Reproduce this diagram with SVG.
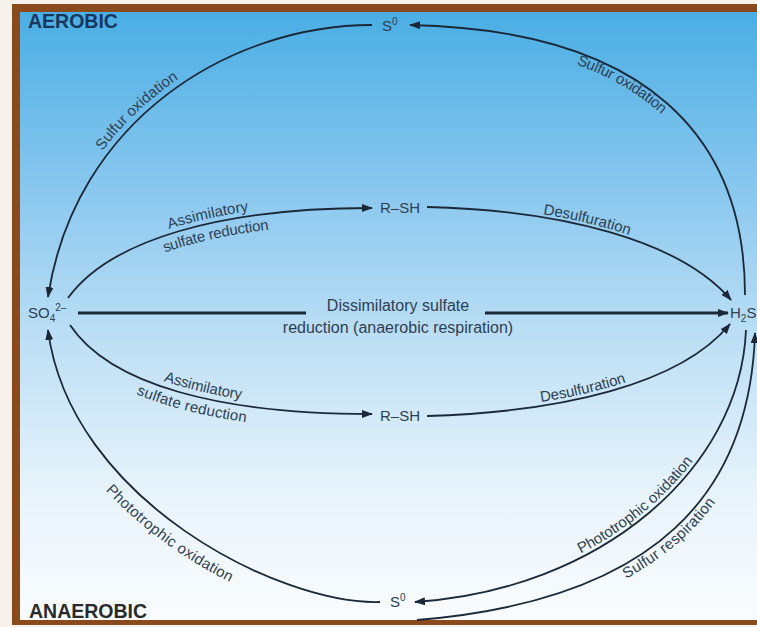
<svg xmlns="http://www.w3.org/2000/svg" width="757" height="627" viewBox="0 0 757 627">
<defs>
<linearGradient id="bg" x1="0" y1="12" x2="0" y2="620" gradientUnits="userSpaceOnUse">
<stop offset="0" stop-color="#4aaee4"/>
<stop offset="0.3" stop-color="#8bc8ef"/>
<stop offset="0.55" stop-color="#bfe0f5"/>
<stop offset="0.8" stop-color="#e9f4fb"/>
<stop offset="1" stop-color="#f9fcfe"/>
</linearGradient>
<marker id="ah" viewBox="0 0 11 8" refX="10" refY="4" markerWidth="11" markerHeight="8" markerUnits="userSpaceOnUse" orient="auto">
<path d="M0,0 L11,4 L0,8 z" fill="#1b2838"/>
</marker>
<path id="tp1" d="M48,297 C 75,120 230,25 372,25"/>
<path id="tp2" d="M412,25 C 650,30 745,140 745,295"/>
<path id="tp3" d="M68,298 C 110,240 220,208 372,208"/>
<path id="tp4" d="M427,207 C 560,210 680,240 732,300"/>
<path id="tp5" d="M70,325 C 110,385 220,414 372,414"/>
<path id="tp6" d="M427,416 C 560,412 680,385 730,324"/>
<path id="tp7" d="M48,330 C 70,500 280,605 380,602"/>
<path id="tp8" d="M417,602 C 600,590 740,470 746,330"/>
<path id="tp9" d="M417,620 C 660,600 750,490 755,333"/>
</defs>
<style>
.ln{fill:none;stroke:#1b2838;stroke-width:1.8;marker-end:url(#ah)}
.lbl{font-family:"Liberation Sans",Arial,sans-serif;font-size:15px;fill:#2e3f52}
.node{font-family:"Liberation Sans",Arial,sans-serif;font-size:15px;fill:#2e3f52}
.zone{font-family:"Liberation Sans",Arial,sans-serif;font-size:19.5px;font-weight:bold}
</style>
<rect x="0" y="0" width="757" height="627" fill="#f6f1ea"/>
<rect x="12" y="4" width="745" height="621" fill="#8b4a1c"/>
<rect x="20" y="12" width="737" height="608" fill="url(#bg)"/>

<g id="connectors">
<path class="ln" d="M372,25 C 230,25 75,120 48,297"/>
<path class="ln" d="M745,295 C 745,140 650,30 410,25"/>
<path class="ln" d="M68,298 C 110,240 220,208 372,208"/>
<path class="ln" d="M427,207 C 560,210 680,240 731,300"/>
<path class="ln" d="M78,313 L306,313" style="stroke-width:3;marker-end:none"/>
<path class="ln" d="M485,313 L728,313" style="stroke-width:3"/>
<path class="ln" d="M70,325 C 110,385 220,414 372,414"/>
<path class="ln" d="M427,416 C 560,412 680,385 730,324"/>
<path class="ln" d="M380,602 C 280,605 70,500 48,330"/>
<path class="ln" d="M746,330 C 740,470 600,590 415,602"/>
<path class="ln" d="M417,620 C 660,600 750,490 755,333"/>
</g>

<g id="labels">
<text class="lbl"><textPath href="#tp1" startOffset="45%" text-anchor="middle"><tspan dy="-6">Sulfur oxidation</tspan></textPath></text>
<text class="lbl"><textPath href="#tp2" startOffset="46%" text-anchor="middle"><tspan dy="12">Sulfur oxidation</tspan></textPath></text>
<text class="lbl"><textPath href="#tp3" startOffset="50%" text-anchor="middle"><tspan dy="-5">Assimilatory</tspan></textPath></text>
<text class="lbl"><textPath href="#tp3" startOffset="51%" text-anchor="middle"><tspan dy="16">sulfate reduction</tspan></textPath></text>
<text class="lbl"><textPath href="#tp4" startOffset="49%" text-anchor="middle"><tspan dy="-3">Desulfuration</tspan></textPath></text>
<text class="lbl"><textPath href="#tp5" startOffset="47%" text-anchor="middle"><tspan dy="-6">Assimilatory</tspan></textPath></text>
<text class="lbl"><textPath href="#tp5" startOffset="45%" text-anchor="middle"><tspan dy="16">sulfate reduction</tspan></textPath></text>
<text class="lbl"><textPath href="#tp6" startOffset="49%" text-anchor="middle"><tspan dy="-4">Desulfuration</tspan></textPath></text>
<text class="lbl"><textPath href="#tp7" startOffset="52%" text-anchor="middle"><tspan dy="21">Phototrophic oxidation</tspan></textPath></text>
<text class="lbl"><textPath href="#tp8" startOffset="53%" text-anchor="middle"><tspan dy="-4">Phototrophic oxidation</tspan></textPath></text>
<text class="lbl"><textPath href="#tp9" startOffset="54%" text-anchor="middle"><tspan dy="13">Sulfur respiration</tspan></textPath></text>
<text class="lbl" x="398" y="311" text-anchor="middle" style="font-size:16px">Dissimilatory sulfate</text>
<text class="lbl" x="398" y="333" text-anchor="middle" style="font-size:16px">reduction (anaerobic respiration)</text>
</g>

<g id="zone-aerobic"><text class="zone" x="28" y="28" fill="#17375e">AEROBIC</text></g>
<g id="zone-anaerobic"><text class="zone" x="29" y="618" fill="#2a2a2a">ANAEROBIC</text></g>
<g id="node-s0-top"><text class="node" x="382" y="31">S<tspan dy="-6" font-size="10">0</tspan></text></g>
<g id="node-so4"><text class="node" x="28" y="318">SO<tspan dy="4" font-size="10">4</tspan><tspan dy="-11" font-size="10">2–</tspan></text></g>
<g id="node-h2s"><text class="node" x="730" y="318">H<tspan dy="4" font-size="10">2</tspan><tspan dy="-4">S</tspan></text></g>
<g id="node-rsh-top"><text class="node" x="380" y="213">R–SH</text></g>
<g id="node-rsh-bottom"><text class="node" x="380" y="421">R–SH</text></g>
<g id="node-s0-bottom"><text class="node" x="390" y="607">S<tspan dy="-6" font-size="10">0</tspan></text></g>
</svg>
